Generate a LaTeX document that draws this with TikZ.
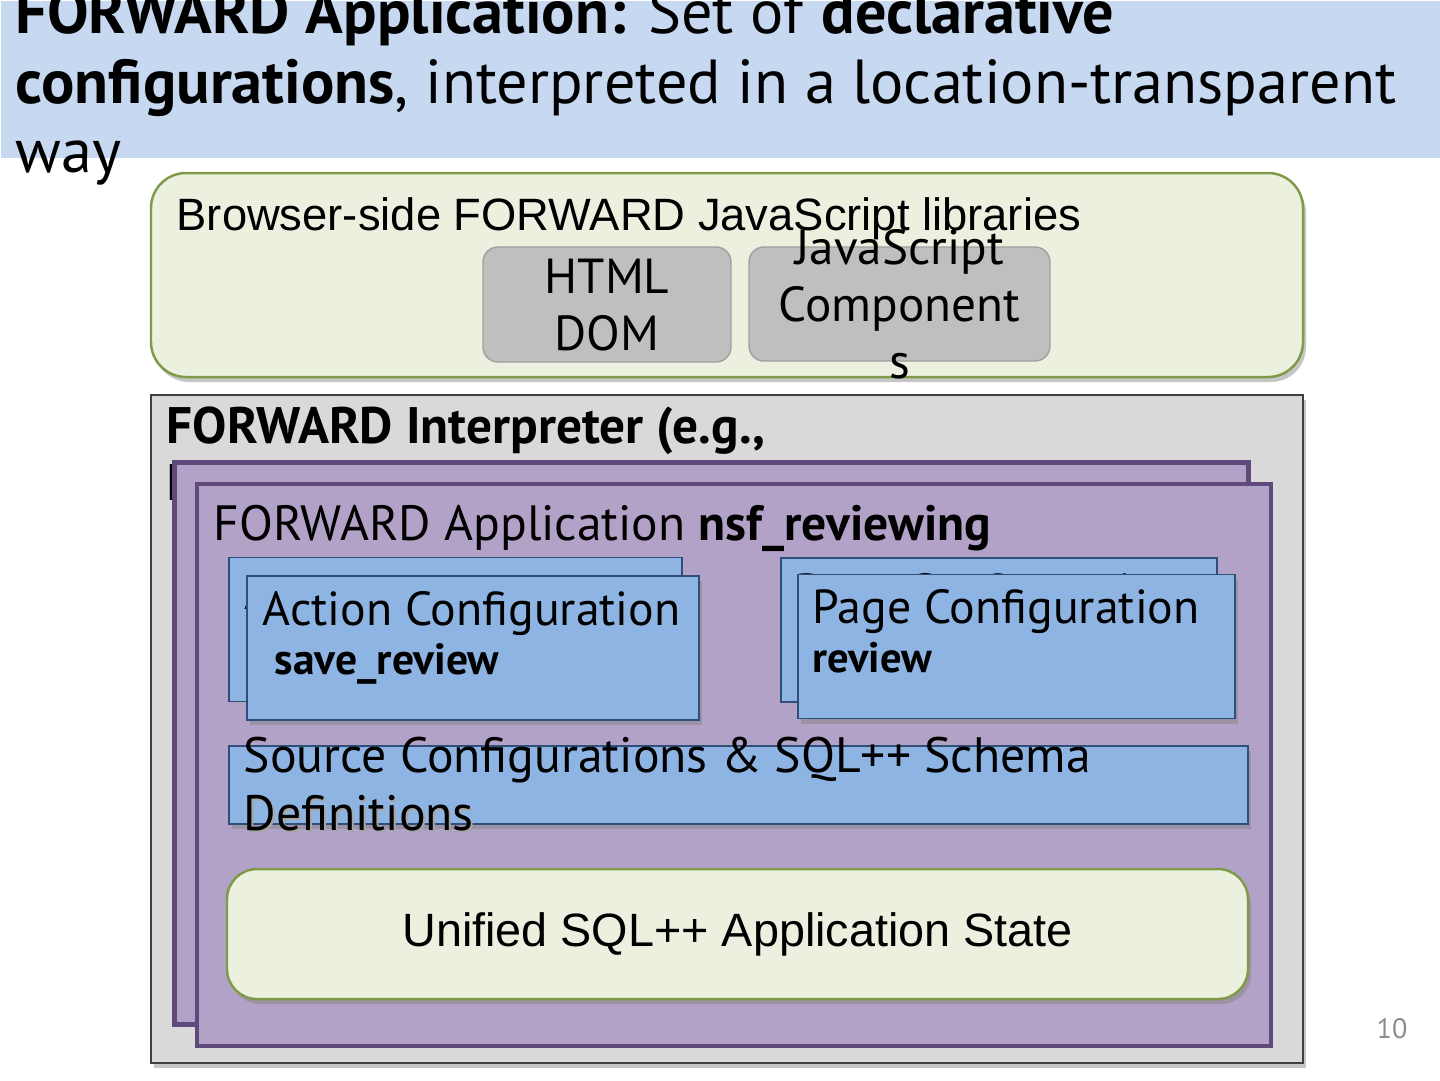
\documentclass[tikz,border=0pt]{standalone}
\usepackage{xcolor}
\usepackage{fontspec}
\setmainfont{PT Sans}
\newfontfamily\arialfont{Liberation Sans}
\usetikzlibrary{shadows}
\definecolor{fwdTitle}{HTML}{C6D9F1}
\definecolor{fwdLime}{HTML}{EBF0DF}
\definecolor{fwdLimeLine}{HTML}{7F9A48}
\definecolor{fwdGrey}{HTML}{BFBFBF}
\definecolor{fwdGreyLine}{HTML}{A0A0A0}
\definecolor{fwdInterp}{HTML}{D9D9D9}
\definecolor{fwdInterpLine}{HTML}{404040}
\definecolor{fwdPurple}{HTML}{B3A2C7}
\definecolor{fwdPurpleLine}{HTML}{604A7B}
\definecolor{fwdBlue}{HTML}{8EB4E3}
\definecolor{fwdBlueLine}{HTML}{2F4F78}

\begin{document}
\begin{tikzpicture}[x=0.1mm, y=-0.1mm,
  box/.style={draw, inner sep=0pt, outer sep=0pt},
  shade box/.style={drop shadow={shadow xshift=0.3mm, shadow yshift=-0.5mm, opacity=0.45}},
  txt/.style={inner sep=0pt, anchor=base west},
  confbox/.style={box, fill=fwdBlue, draw=fwdBlueLine, line width=0.5pt, minimum height=14.4mm},
  appbox/.style={box, fill=fwdPurple, draw=fwdPurpleLine, line width=1.2pt, minimum width=107.4mm, minimum height=56.2mm}]
  \clip (0,0) rectangle (1440,1080);

  % title banner
  \node[fill=fwdTitle, inner sep=0pt, minimum width=144mm, minimum height=15.7mm, anchor=north west] (banner) at (0,0) {};
  \node[txt, font=\fontsize{17.7}{20}\selectfont] (titleA) at (15,33) {\textbf{FORWARD Application:} Set of \textbf{declarative}};
  \node[txt, font=\fontsize{17.7}{20}\selectfont] (titleB) at (15,103) {\textbf{configurations}, interpreted in a location-transparent};
  \node[txt, font=\fontsize{17.7}{20}\selectfont] (titleC) at (15,172) {way};

  % browser side
  \node[box, fill=fwdLime, draw=fwdLimeLine, line width=0.7pt, rounded corners=3.5mm, shade box,
        minimum width=115.2mm, minimum height=20.4mm] (browser) at (727,275) {};
  \node[txt, font=\arialfont\fontsize{12.9}{15}\selectfont] (browserLbl) at (176,230) {Browser-side FORWARD JavaScript libraries};
  \node[box, fill=fwdGrey, draw=fwdGreyLine, line width=0.4pt, rounded corners=1.5mm,
        minimum width=24.8mm, minimum height=11.5mm] (dom) at (607,304.5) {};
  \node[inner sep=0pt, align=center, font=\fontsize{14}{16.2}\selectfont] (domLbl) at (607,305) {HTML\\DOM};
  \node[box, fill=fwdGrey, draw=fwdGreyLine, line width=0.4pt, rounded corners=1.5mm,
        minimum width=30.1mm, minimum height=11.4mm] (jscomp) at (899.5,304) {};
  \node[inner sep=0pt, align=center, font=\fontsize{14}{16.2}\selectfont] (jscompLbl) at (899.5,304) {JavaScript\\Component\\s};

  % interpreter
  \node[box, fill=fwdInterp, draw=fwdInterpLine, line width=0.6pt, shade box,
        minimum width=115.2mm, minimum height=66.8mm] (interp) at (727,729) {};
  \node[txt, font=\bfseries\fontsize{14.6}{17}\selectfont] (interpLbl) at (166,443) {FORWARD Interpreter (e.g.,};
  \node[txt, font=\bfseries\fontsize{14.6}{17}\selectfont] (interpLblB) at (166,500) {I};

  % application (stacked)
  \node[appbox] (appBack) at (711.5,743.5) {};
  \node[appbox] (app) at (734,765) {};
  \node[txt, font=\fontsize{14.1}{16}\selectfont] (appLbl) at (213,540) {FORWARD Application \textbf{nsf\_reviewing}};

  % action configurations
  \node[confbox, minimum width=45.3mm] (actBack) at (455.5,629.5) {};
  \node[txt, font=\fontsize{13.6}{16}\selectfont] (actBackLbl) at (244,609) {Action Configuration};
  \node[confbox, shade box, minimum width=45.2mm] (act) at (473,648) {};
  \node[txt, font=\fontsize{13.6}{16}\selectfont] (actLbl) at (262,625) {Action Configuration};
  \node[txt, font=\bfseries\fontsize{12.4}{14}\selectfont] (actName) at (274,674) {save\_review};

  % page configurations
  \node[confbox, minimum width=43.6mm] (pageBack) at (999,630) {};
  \node[txt, font=\fontsize{13.6}{16}\selectfont] (pageBackLbl) at (795,607) {Page Configuration};
  \node[confbox, shade box, minimum width=43.7mm] (page) at (1016.5,646.5) {};
  \node[txt, font=\fontsize{13.6}{16}\selectfont] (pageLbl) at (812,623) {Page Configuration};
  \node[txt, font=\bfseries\fontsize{12.1}{14}\selectfont] (pageName) at (812,672) {review};

  % sources and schema
  \node[confbox, shade box, minimum width=101.9mm, minimum height=7.8mm] (source) at (738.5,785) {};
  \node[txt, font=\fontsize{14.15}{16}\selectfont, text=black!35] (sourceShadeB) at (245,832) {Definitions};
  \node[txt, font=\fontsize{14.15}{16}\selectfont] (sourceLblA) at (243,772) {Source Configurations \& SQL++ Schema};
  \node[txt, font=\fontsize{14.15}{16}\selectfont] (sourceLblB) at (243,830) {Definitions};

  % application state
  \node[box, fill=fwdLime, draw=fwdLimeLine, line width=0.7pt, rounded corners=3mm, shade box,
        minimum width=102.1mm, minimum height=13mm, font=\arialfont\fontsize{13.3}{16}\selectfont] (state) at (737.5,934) {Unified SQL++ Application State};

  % slide number
  \node[txt, text=black!45, font=\fontsize{8}{10}\selectfont] (slideNo) at (1376,1038) {10};
\end{tikzpicture}
\end{document}
